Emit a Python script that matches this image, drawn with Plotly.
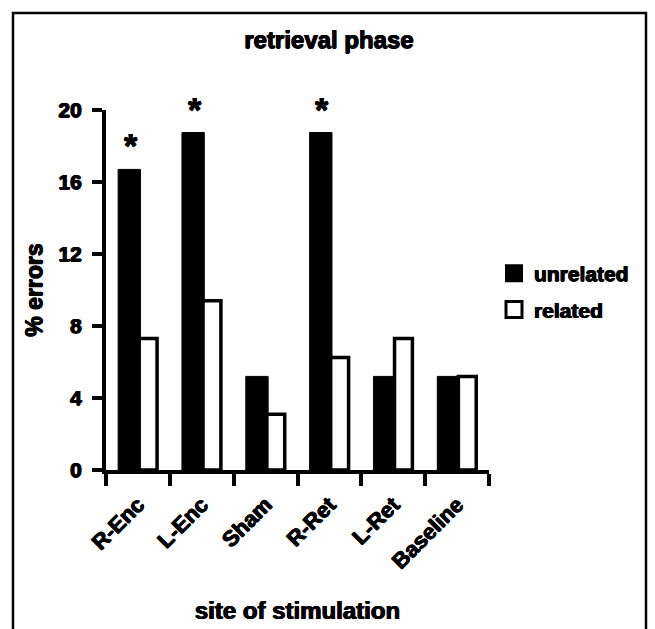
import plotly.graph_objects as go

categories = ["R-Enc", "L-Enc", "Sham", "R-Ret", "L-Ret", "Baseline"]
unrelated = [16.7, 18.75, 5.2, 18.75, 5.2, 5.2]
related = [7.3, 9.4, 3.1, 6.25, 7.3, 5.2]
significant = [True, True, False, True, False, False]
y_ticks = [0, 4, 8, 12, 16, 20]

FONT = "Liberation Sans"
SHADOW = "0.6px 0 0 black, -0.6px 0 0 black, 0 0.5px 0 black"


def f(size):
    return dict(family=FONT, size=size, color="black", weight="bold", shadow=SHADOW)


fig = go.Figure()
fig.add_trace(go.Bar(
    x=categories, y=unrelated, name="unrelated", showlegend=False,
    marker=dict(color="black", line=dict(color="black", width=1)),
    offset=-0.31, width=0.35,
))
fig.add_trace(go.Bar(
    x=categories, y=related, name="related", showlegend=False,
    marker=dict(color="white", line=dict(color="black", width=3.5)),
    offset=0.02, width=0.28,
))
# legend entries (larger square swatches, like the original legend)
fig.add_trace(go.Scatter(
    x=[None], y=[None], mode="markers", name="unrelated", legendgroup="a",
    marker=dict(symbol="square", size=16, color="black", line=dict(color="black", width=2)),
))
fig.add_trace(go.Scatter(
    x=[None], y=[None], mode="markers", name="related", legendgroup="b",
    marker=dict(symbol="square", size=16, color="white", line=dict(color="black", width=3)),
))

for cat, val, sig in zip(categories, unrelated, significant):
    if sig:
        fig.add_annotation(
            x=cat, y=val, xref="x", yref="y", text="*", showarrow=False,
            xshift=-7, yshift=3, yanchor="bottom", font=f(34),
        )

W, H = 655, 629
L, R, T, B = 106, 166, 110, 159
pw, ph = W - L - R, H - T - B


def px(x):
    return (x - L) / pw


def py(y):
    return (H - B - y) / ph


fig.add_shape(type="rect", xref="paper", yref="paper",
              x0=px(13), x1=px(646), y0=py(645), y1=py(13),
              line=dict(color="black", width=2.5), fillcolor="rgba(0,0,0,0)")

fig.update_layout(
    width=W, height=H,
    margin=dict(l=L, r=R, t=T, b=B, autoexpand=False),
    paper_bgcolor="white", plot_bgcolor="white",
    barmode="overlay",
    font=f(20),
    title=dict(text="retrieval phase", x=329 / W, xref="container", xanchor="center",
               y=1 - 40 / H, yref="container", yanchor="middle", font=f(24)),
    showlegend=True,
    legend=dict(x=px(494), y=py(253), xanchor="left", yanchor="top",
                font=f(21), tracegroupgap=6, traceorder="grouped",
                itemwidth=30, bgcolor="rgba(0,0,0,0)"),
    xaxis=dict(
        type="category", categoryorder="array", categoryarray=categories,
        range=[-0.5, 5.5], automargin=False,
        showline=True, linecolor="black", linewidth=4,
        ticks="outside", tickson="boundaries", ticklen=12, tickwidth=4, tickcolor="black",
        tickangle=-45, tickfont=f(22), ticklabelstandoff=9,
        showgrid=False, zeroline=False,
        title=dict(text="site of stimulation", standoff=30, font=f(24)),
    ),
    yaxis=dict(
        range=[0, 20], tickvals=y_ticks, ticktext=[str(v) for v in y_ticks],
        automargin=False,
        showline=True, linecolor="black", linewidth=4,
        ticks="outside", ticklen=10, tickwidth=4, tickcolor="black",
        tickfont=f(21), ticklabelstandoff=6,
        showgrid=False, zeroline=False,
        title=dict(text="% errors", standoff=10, font=f(23)),
    ),
)

fig.write_html("out.html", config={"displayModeBar": False},
               post_script="document.body.style.margin='0';")
